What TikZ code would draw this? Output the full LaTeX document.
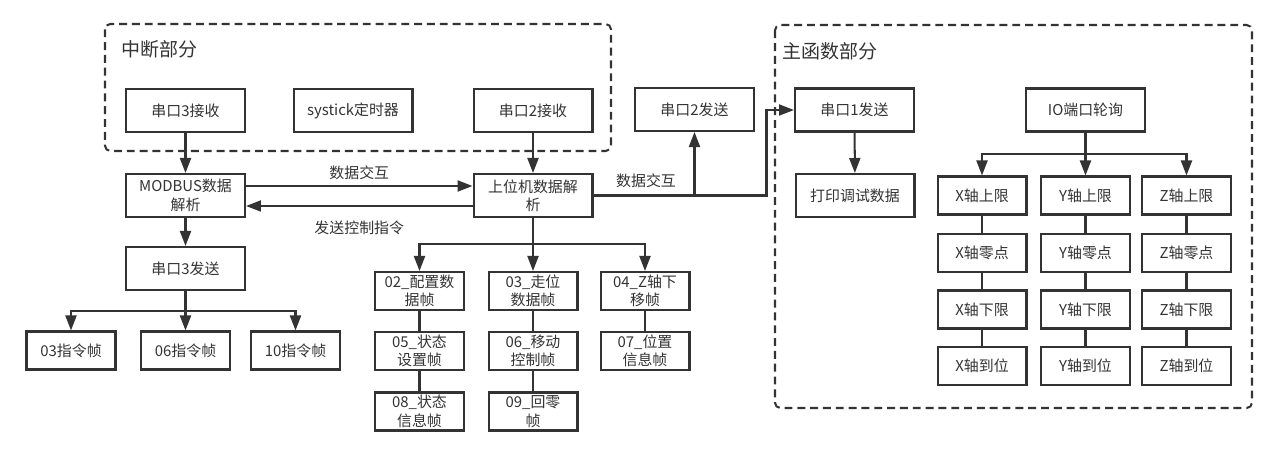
\documentclass[tikz,border=0pt]{standalone}
\usepackage{fontspec}
\setmainfont{Noto Sans CJK SC}
\usepackage{tikz}
\usetikzlibrary{arrows.meta, positioning, calc}
\definecolor{ink}{HTML}{333333}
\tikzstyle{block} = [rectangle, draw=ink, line width=1.15pt, text=ink, align=center, minimum width=2.38cm, minimum height=0.86cm, inner sep=1pt, font=\fontsize{8.5}{10.5}\selectfont]
\tikzstyle{small} = [block, minimum width=1.78cm, minimum height=0.76cm]
\tikzstyle{arrow} = [draw=ink, line width=1.15pt, -{Triangle[length=0.3cm, width=0.22cm]}]
\tikzstyle{link} = [draw=ink, line width=1.15pt]
\tikzstyle{group} = [draw=ink, line width=1.15pt, dash pattern=on 4.5pt off 2.8pt, rounded corners=3pt]
\tikzstyle{head} = [text=ink, anchor=west, inner sep=0pt, font=\fontsize{10.8}{13}\selectfont]
\tikzstyle{lbl} = [text=ink, inner sep=0pt, font=\fontsize{8.5}{10.5}\selectfont]

\begin{document}
\begin{tikzpicture}[x=0.02cm, y=-0.02cm]
\useasboundingbox (0,0) rectangle (1276,456);

% Groups
\draw[group] (105,24) rectangle (611,151);
\node[head] (ghead1) at (121,49) {中断部分};
\draw[group] (775,25) rectangle (1252,408);
\node[head] (ghead2) at (782,51) {主函数部分};

% Interrupt part
\node[block] (u3rx) at (185.5,110.5) {串口3接收};
\node[block] (tick) at (353,110.5) {systick定时器};
\node[block] (u2rx) at (533,110.5) {串口2接收};

% Parsers
\node[block] (modbus) at (185.5,195.5) {MODBUS数据\\解析};
\node[block] (host) at (533,195.5) {上位机数据解\\析};
\node[block] (u3tx) at (185.5,268.5) {串口3发送};
\node[block] (u2tx) at (694.5,109.5) {串口2发送};

% Command frames
\node[small] (c03) at (71,350.5) {03指令帧};
\node[small] (c06) at (185.5,350.5) {06指令帧};
\node[small] (c10) at (295.5,350.5) {10指令帧};

% Host frames
\node[small] (fr02) at (419.5,291) {02\_配置数\\据帧};
\node[small] (fr03) at (533,291) {03\_走位\\数据帧};
\node[small] (fr04) at (645,291) {04\_Z轴下\\移帧};
\node[small] (fr05) at (419.5,351) {05\_状态\\设置帧};
\node[small] (fr06) at (533,351) {06\_移动\\控制帧};
\node[small] (fr07) at (645,351) {07\_位置\\信息帧};
\node[small] (fr08) at (419.5,411.5) {08\_状态\\信息帧};
\node[small] (fr09) at (533,411.5) {09\_回零\\帧};

% Main part
\node[block] (u1tx) at (854.5,110) {串口1发送};
\node[block] (dbg) at (855,195.5) {打印调试数据};
\node[block] (io) at (1085.5,110) {IO端口轮询};

% Axis switches
\foreach \ax/\cx in {x/982, y/1085.5, z/1186.5} {
  \node[small] (\ax up) at (\cx,195.5) {\MakeUppercase{\ax}轴上限};
  \node[small] (\ax zero) at (\cx,253) {\MakeUppercase{\ax}轴零点};
  \node[small] (\ax low) at (\cx,309.5) {\MakeUppercase{\ax}轴下限};
  \node[small] (\ax ok) at (\cx,366) {\MakeUppercase{\ax}轴到位};
  \draw[link] (\ax up) -- (\ax zero);
  \draw[link] (\ax zero) -- (\ax low);
  \draw[link] (\ax low) -- (\ax ok);
}

% Arrows
\draw[arrow] (u3rx) -- (modbus);
\draw[arrow] (u2rx) -- (host);
\draw[arrow] (modbus.east |- 0,186) -- node[lbl, above=3pt] {数据交互} (host.west |- 0,186);
\draw[arrow] (host.west |- 0,206) -- node[lbl, below=8pt] {发送控制指令} (modbus.east |- 0,206);
\draw[arrow] (modbus) -- (u3tx);

\coordinate (mb) at (185.5,311);
\draw[link] (u3tx) -- (mb);
\draw[arrow] (mb) -| (c03.north);
\draw[arrow] (mb) -- (c06);
\draw[arrow] (mb) -| (c10.north);

\coordinate (hb) at (533,244);
\draw[link] (host) -- (hb);
\draw[arrow] (hb) -| (fr02.north);
\draw[arrow] (hb) -- (fr03);
\draw[arrow] (hb) -| (fr04.north);
\draw[link] (fr02) -- (fr05);
\draw[link] (fr05) -- (fr08);
\draw[link] (fr03) -- (fr06);
\draw[link] (fr06) -- (fr09);
\draw[link] (fr04) -- (fr07);

\coordinate (hj) at (u2tx.south |- host.east);
\draw[arrow] (host.east) -- ++(173,0) |- (u1tx.west);
\draw[arrow] (hj) -- (u2tx);
\node[lbl] (xchg) at (646,181) {数据交互};

\draw[arrow] (u1tx) -- (dbg);

\coordinate (ib) at (1085.5,154);
\draw[link] (io) -- (ib);
\draw[arrow] (ib) -| (xup.north);
\draw[arrow] (ib) -- (yup);
\draw[arrow] (ib) -| (zup.north);
\end{tikzpicture}
\end{document}
